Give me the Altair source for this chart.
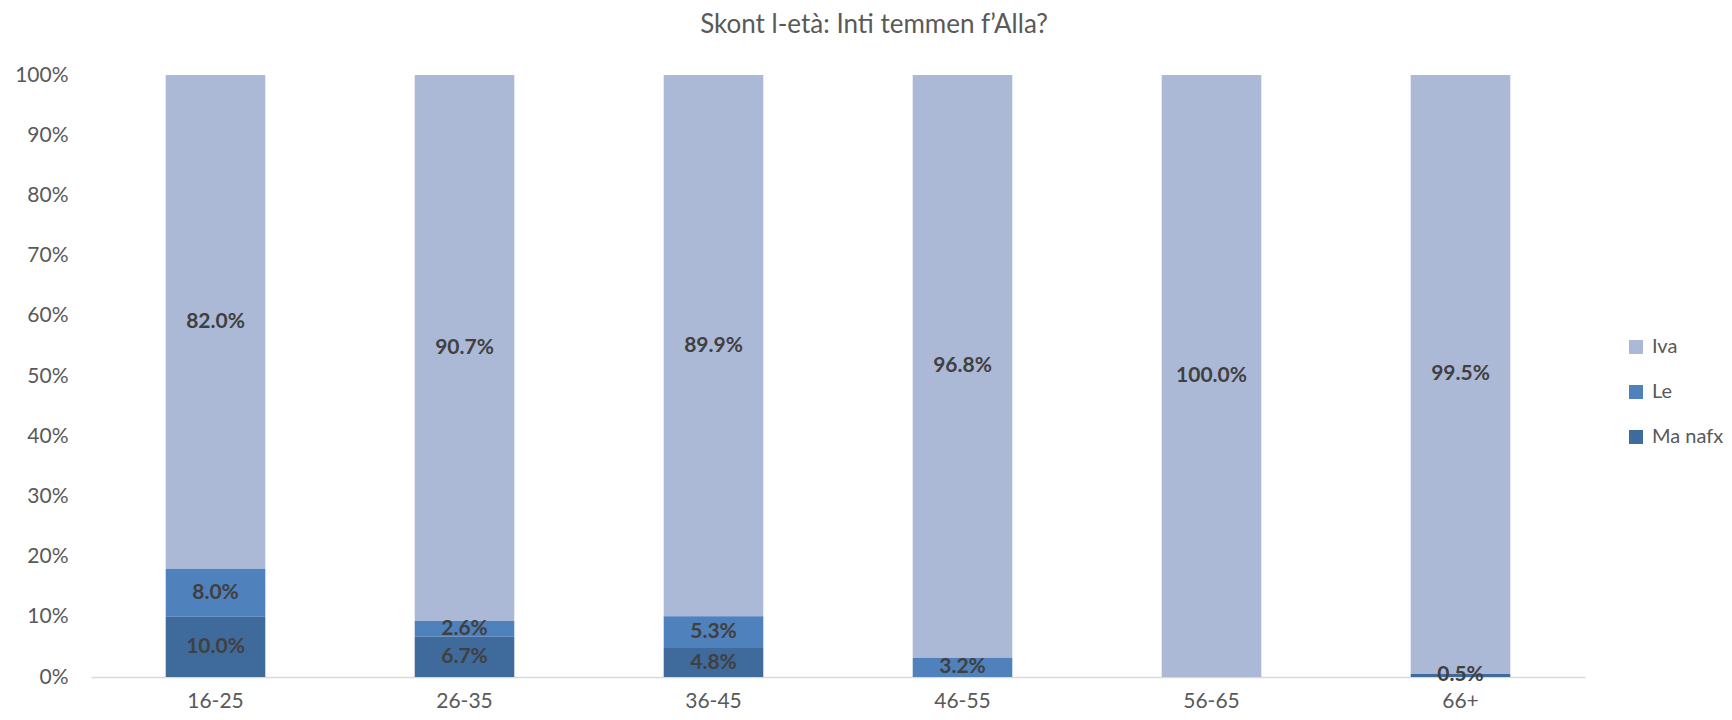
import altair as alt
import pandas as pd

ages = ["16-25", "26-35", "36-45", "46-55", "56-65", "66+"]
series = ["Iva", "Le", "Ma nafx"]
iva = [0.820, 0.907, 0.899, 0.968, 1.000, 0.995]
le = [0.080, 0.026, 0.053, 0.032, 0.0, 0.0]
ma_nafx = [0.100, 0.067, 0.048, 0.0, 0.0, 0.005]
colors = ["#ABB9D7", "#4F81BD", "#3F6A9C"]
stack_rank = {"Ma nafx": 0, "Le": 1, "Iva": 2}

rows = []
for name, vals in (("Iva", iva), ("Le", le), ("Ma nafx", ma_nafx)):
    for a, v in zip(ages, vals):
        rows.append({"age": a, "series": name, "value": v, "rank": stack_rank[name]})
df = pd.DataFrame(rows)

FONT = "Lato"

base = alt.Chart(df).transform_stack(
    stack="value",
    groupby=["age"],
    as_=["y0", "y1"],
    sort=[alt.SortField("rank", order="ascending")],
).transform_calculate(mid="(datum.y0 + datum.y1) / 2")

x_enc = alt.X(
    "age:N",
    sort=ages,
    scale=alt.Scale(paddingInner=0.6, paddingOuter=0.3),
    axis=alt.Axis(
        title=None, labelAngle=0, labelFont=FONT, labelFontSize=21,
        labelColor="#595959", ticks=False, labelPadding=13,
        domainColor="#D9D9D9", domainWidth=1.5, grid=False,
    ),
)

bars = base.mark_bar().encode(
    x=x_enc,
    y=alt.Y(
        "y0:Q",
        scale=alt.Scale(domain=[0, 1], nice=False),
        axis=alt.Axis(
            title=None, format=".0%", values=[i / 10 for i in range(11)],
            labelFont=FONT, labelFontSize=21, labelColor="#595959",
            ticks=False, domain=False, grid=False, labelPadding=23,
        ),
    ),
    y2="y1:Q",
    color=alt.Color(
        "series:N",
        scale=alt.Scale(domain=series, range=colors),
        legend=alt.Legend(
            title=None, orient="none", legendX=1535, legendY=262,
            symbolType="square", symbolSize=196, symbolStrokeWidth=0,
            symbolOpacity=1, labelFont=FONT, labelFontSize=20,
            labelColor="#595959", labelOffset=6, rowPadding=25, padding=0,
        ),
    ),
)

texts = base.transform_filter("datum.value > 0").mark_text(
    font=FONT, fontWeight="bold", fontSize=21, color="#404040"
).encode(
    x=alt.X("age:N", sort=ages),
    y=alt.Y("mid:Q"),
    text=alt.Text("value:Q", format=".1%"),
)

chart = alt.layer(bars, texts).properties(
    width=1494,
    height=602,
    autosize=alt.AutoSizeParams(type="none"),
    padding={"left": 83, "top": 67, "right": 139, "bottom": 35},
    title=alt.Title(
        "Skont l-età: Inti temmen f’Alla?",
        font=FONT, fontSize=26, fontWeight="normal", color="#595959",
        anchor="middle", dx=36, offset=26,
    ),
).configure_view(stroke=None)

chart.save("out.html", embed_options={"renderer": "svg", "actions": False})
